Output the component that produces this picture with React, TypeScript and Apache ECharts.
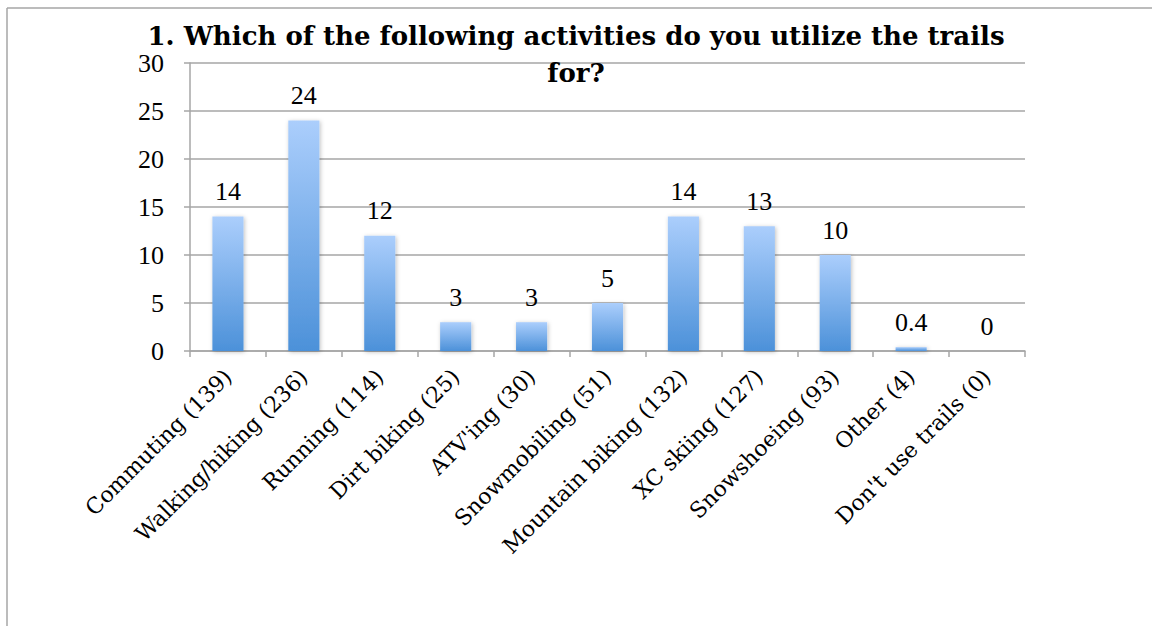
import React, { useEffect, useRef } from "react";
import * as echarts from "echarts";

const categories = [
  "Commuting (139)",
  "Walking/hiking (236)",
  "Running (114)",
  "Dirt biking (25)",
  "ATV'ing (30)",
  "Snowmobiling (51)",
  "Mountain biking (132)",
  "XC skiing (127)",
  "Snowshoeing (93)",
  "Other (4)",
  "Don't use trails (0)",
];
const values = [14, 24, 12, 3, 3, 5, 14, 13, 10, 0.4, 0];
const titleText = "1. Which of the following activities do you utilize the trails\nfor?";

const NUM_FONT = "'Liberation Serif', 'DejaVu Serif', serif";
const TXT_FONT = "'DejaVu Serif', 'Liberation Serif', serif";
const GRAY = "#a6a6a6";

export default function App() {
  const ref = useRef<HTMLDivElement>(null);
  useEffect(() => {
    document.body.style.margin = "0";
    const chart = echarts.init(ref.current!, undefined, { renderer: "svg" });
    chart.setOption({
      animation: false,
      backgroundColor: "#ffffff",
      title: {
        text: titleText,
        left: "center",
        top: 12,
        textStyle: {
          fontFamily: TXT_FONT,
          fontWeight: "bold",
          fontSize: 26,
          lineHeight: 37,
          color: "#000",
        },
      },
      graphic: [
        { type: "line", shape: { x1: 7, y1: 8, x2: 1152, y2: 8 }, style: { stroke: GRAY, lineWidth: 1.5 } },
        { type: "line", shape: { x1: 7, y1: 8, x2: 7, y2: 626 }, style: { stroke: GRAY, lineWidth: 1.5 } },
      ],
      grid: { left: 190, right: 127, top: 63, bottom: 275, containLabel: false },
      xAxis: {
        type: "category",
        data: categories,
        axisLine: { show: true, lineStyle: { color: GRAY, width: 1.5 } },
        axisTick: { show: true, length: 6, lineStyle: { color: GRAY, width: 1.5 } },
        axisLabel: {
          rotate: 45,
          interval: 0,
          margin: 22,
          fontFamily: TXT_FONT,
          fontSize: 22,
          color: "#000",
        },
      },
      yAxis: {
        type: "value",
        min: 0,
        max: 30,
        interval: 5,
        axisLine: { show: true, lineStyle: { color: GRAY, width: 1.5 } },
        axisTick: { show: true, length: 6, lineStyle: { color: GRAY, width: 1.5 } },
        splitLine: { show: true, lineStyle: { color: GRAY, width: 1.5 } },
        axisLabel: { margin: 26, fontFamily: NUM_FONT, fontSize: 26, color: "#000" },
      },
      series: [
        {
          type: "bar",
          data: values,
          barWidth: "41%",
          itemStyle: {
            color: new echarts.graphic.LinearGradient(0, 0, 0, 1, [
              { offset: 0, color: "#abcefc" },
              { offset: 1, color: "#4c91d9" },
            ]),
            shadowBlur: 4,
            shadowColor: "rgba(0,0,0,0.25)",
            shadowOffsetX: 1,
            shadowOffsetY: 1,
          },
          label: {
            show: true,
            position: "top",
            distance: 12,
            fontFamily: NUM_FONT,
            fontSize: 26,
            color: "#000",
          },
        },
      ],
    });
    return () => chart.dispose();
  }, []);
  return <div ref={ref} style={{ width: 1152, height: 626 }} />;
}
